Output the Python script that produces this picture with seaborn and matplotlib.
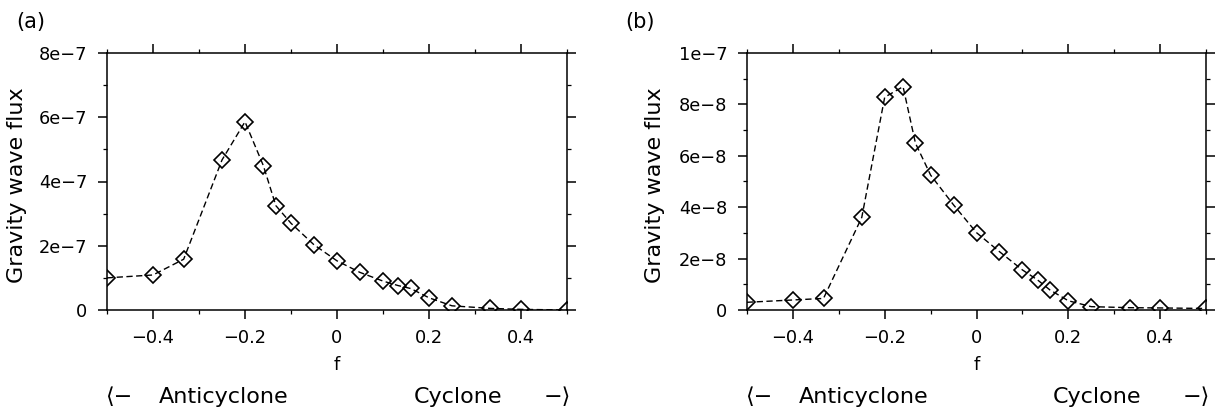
import numpy as np
import pandas as pd
import matplotlib
matplotlib.use("Agg")
import matplotlib.pyplot as plt
import matplotlib.transforms as mtransforms
from matplotlib.ticker import FixedLocator, MultipleLocator
import seaborn as sns

# ---------------- data ----------------
f_vals = [-0.5, -0.4, -1/3, -0.25, -0.2, -0.16, -0.133, -0.1, -0.05, 0.0,
          0.05, 0.1, 0.133, 0.16, 0.2, 0.25, 1/3, 0.4, 0.5]

flux_a = [1.00e-7, 1.09e-7, 1.58e-7, 4.67e-7, 5.86e-7, 4.49e-7, 3.25e-7, 2.70e-7,
          2.03e-7, 1.53e-7, 1.17e-7, 0.90e-7, 0.76e-7, 0.67e-7, 0.38e-7, 0.13e-7,
          0.05e-7, 0.02e-7, 0.0]

flux_b = [3.0e-9, 3.9e-9, 4.5e-9, 3.6e-8, 8.28e-8, 8.69e-8, 6.49e-8, 5.25e-8,
          4.09e-8, 3.01e-8, 2.27e-8, 1.56e-8, 1.17e-8, 7.8e-9, 3.6e-9, 1.3e-9,
          0.9e-9, 0.8e-9, 0.6e-9]

x_ticks = [-0.4, -0.2, 0.0, 0.2, 0.4]
x_ticklabels = ["\u22120.4", "\u22120.2", "0", "0.2", "0.4"]

y_ticks_a = [0, 2e-7, 4e-7, 6e-7, 8e-7]
y_ticklabels_a = ["0", "2e\u22127", "4e\u22127", "6e\u22127", "8e\u22127"]
y_ticks_b = [0, 2e-8, 4e-8, 6e-8, 8e-8, 1e-7]
y_ticklabels_b = ["0", "2e\u22128", "4e\u22128", "6e\u22128", "8e\u22128", "1e\u22127"]

panel_labels = ["(a)", "(b)"]
ylabel_text = "Gravity wave flux"
xlabel_text = "f"

# ---------------- style ----------------
sns.set_style("ticks")
plt.rcParams["font.family"] = ["DejaVu Sans"]
plt.rcParams["text.color"] = "black"
plt.rcParams["axes.labelcolor"] = "black"
plt.rcParams["xtick.color"] = "black"
plt.rcParams["ytick.color"] = "black"
plt.rcParams["xtick.labelcolor"] = "black"
plt.rcParams["ytick.labelcolor"] = "black"

W, H = 1215, 412
fig = plt.figure(figsize=(W / 100, H / 100), dpi=100)

def px_rect(x0, y0, x1, y1):
    return [x0 / W, 1 - y1 / H, (x1 - x0) / W, (y1 - y0) / H]

axes = [fig.add_axes(px_rect(107, 53, 567, 310)),
        fig.add_axes(px_rect(747, 53, 1206, 310))]

datasets = [
    (flux_a, y_ticks_a, y_ticklabels_a, 8e-7, 1e-7),
    (flux_b, y_ticks_b, y_ticklabels_b, 1e-7, 1e-8),
]

label_pos = [(31, 22), (640, 22)]
ylabel_x = [17, 655]

for i, (ax, (flux, yt, ytl, ymax, yminor)) in enumerate(zip(axes, datasets)):
    df = pd.DataFrame({"f": f_vals, "flux": flux})
    sns.lineplot(data=df, x="f", y="flux", ax=ax, color="black",
                 linestyle=(0, (4.5, 2.5)), linewidth=1.0,
                 marker="D", markersize=8.5, markerfacecolor="none",
                 markeredgecolor="black", markeredgewidth=1.2)
    ax.set_xlim(-0.5, 0.5)
    ax.set_ylim(0, ymax)
    ax.xaxis.set_major_locator(FixedLocator(x_ticks))
    ax.set_xticklabels(x_ticklabels)
    ax.xaxis.set_minor_locator(FixedLocator([-0.5, -0.3, -0.1, 0.1, 0.3, 0.5]))
    ax.yaxis.set_major_locator(FixedLocator(yt))
    ax.set_yticklabels(ytl)
    ax.yaxis.set_minor_locator(MultipleLocator(yminor))
    ax.tick_params(which="both", direction="out", top=True, right=True,
                   labeltop=False, labelright=False, color="black",
                   labelcolor="black")
    ax.tick_params(which="major", length=6.5, width=1.1, pad=7.5, labelsize=12.8)
    ax.tick_params(which="minor", length=3, width=0.9)
    for s in ax.spines.values():
        s.set_visible(True)
        s.set_linewidth(1.1)
        s.set_color("black")
    ax.set_xlabel("")
    ax.set_ylabel("")

    # x label "f"
    trans = mtransforms.blended_transform_factory(ax.transData, ax.transAxes)
    ax.text(0.0, -0.214, xlabel_text, transform=trans, ha="center", va="center",
            fontsize=13, color="black")
    # Anticyclone / Cyclone line
    yb = -0.339
    ax.text(-0.505, yb, "\u27e8\u2212", transform=trans, ha="left", va="center",
            fontsize=16, color="black")
    ax.text(-0.388, yb, "Anticyclone", transform=trans, ha="left", va="center",
            fontsize=16, color="black")
    ax.text(0.166, yb, "Cyclone", transform=trans, ha="left", va="center",
            fontsize=16, color="black")
    ax.text(0.509, yb, "\u2212\u27e9", transform=trans, ha="right", va="center",
            fontsize=16, color="black")

    # y label
    fig.text(ylabel_x[i] / W, 1 - 185 / H, ylabel_text, rotation=90,
             ha="center", va="center", fontsize=16, color="black")
    # panel label
    fig.text(label_pos[i][0] / W, 1 - label_pos[i][1] / H, panel_labels[i],
             ha="center", va="center", fontsize=15, color="black")

fig.savefig("out.png", dpi=100)
